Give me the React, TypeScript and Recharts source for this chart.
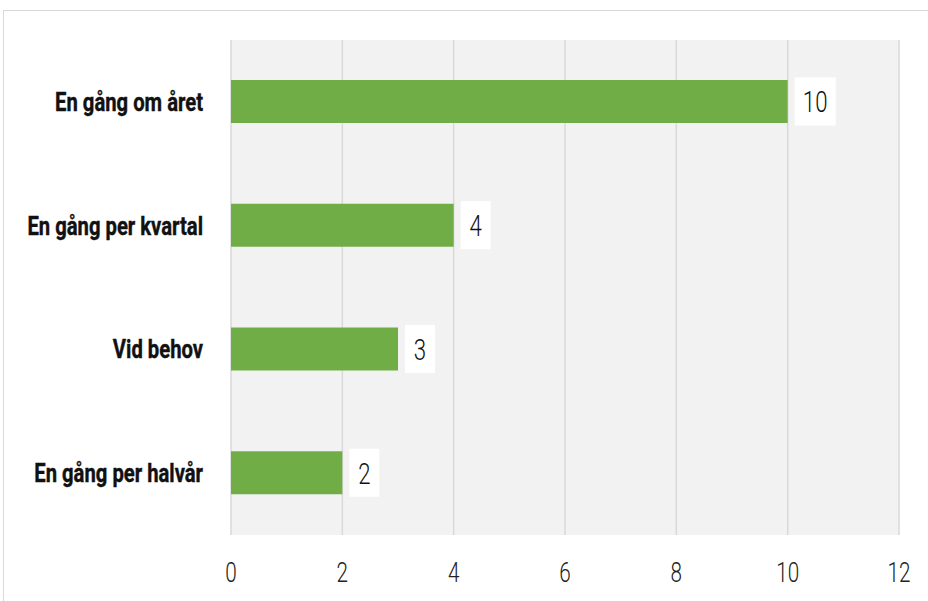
import { BarChart, Bar, XAxis, YAxis, CartesianGrid, LabelList } from "recharts";

// categories top to bottom, and their counts
const categories = ["En gång om året", "En gång per kvartal", "Vid behov", "En gång per halvår"];
const counts = [10, 4, 3, 2];
const xTicks = [0, 2, 4, 6, 8, 10, 12];

const data = categories.map((name, i) => ({ name, value: counts[i] }));

const FONT = "Roboto, 'Noto Sans', sans-serif";
const SQUEEZE = 0.74;
const LABEL_SQUEEZE = 0.81;

function CategoryTick(props: any) {
  const { x, y, payload } = props;
  return (
    <g transform={`translate(${x},${y})`}>
      <text
        transform={`scale(${LABEL_SQUEEZE},1)`}
        textAnchor="end"
        dy="0.36em"
        fontFamily={FONT}
        fontSize={25}
        fontWeight={700}
        fill="#111"
        stroke="#111"
        strokeWidth={0.4}
      >
        {payload.value}
      </text>
    </g>
  );
}

function NumberTick(props: any) {
  const { x, y, payload } = props;
  return (
    <g transform={`translate(${x},${y})`}>
      <text
        transform={`scale(${SQUEEZE},1)`}
        textAnchor="middle"
        dy="0.71em"
        fontFamily={FONT}
        fontSize={28}
        fontWeight={300}
        fill="#222"
      >
        {payload.value}
      </text>
    </g>
  );
}

function ValueLabel(props: any) {
  const { x, y, width, height, value } = props;
  const text = String(value);
  const boxW = text.length * 11 + 19;
  const boxH = 48;
  const bx = x + width + 7;
  const cy = y + height / 2;
  return (
    <g>
      <rect x={bx} y={cy - boxH / 2} width={boxW} height={boxH} fill="#ffffff" />
      <g transform={`translate(${bx + boxW / 2},${cy})`}>
        <text
          transform={`scale(${SQUEEZE},1)`}
          textAnchor="middle"
          dy="0.36em"
          fontFamily={FONT}
          fontSize={30}
          fontWeight={300}
          fill="#111"
        >
          {text}
        </text>
      </g>
    </g>
  );
}

export default function App() {
  return (
    <div style={{ position: "absolute", left: 0, top: 0, width: 928, height: 601, overflow: "hidden", background: "#fff" }}>
      <div
        style={{
          position: "absolute",
          left: 3,
          top: 10,
          width: 940,
          height: 620,
          border: "1px solid #d9d9d9",
          boxSizing: "border-box",
        }}
      />
      <BarChart
        width={928}
        height={601}
        data={data}
        layout="vertical"
        margin={{ top: 40, right: 29, left: 0, bottom: 36 }}
        style={{ position: "absolute", left: 0, top: 0 }}
      >
        <CartesianGrid horizontal={false} stroke="#d9d9d9" strokeWidth={1.5} fill="#f2f2f2" />
        <XAxis
          type="number"
          domain={[0, 12]}
          ticks={xTicks}
          axisLine={false}
          tickLine={false}
          tickSize={0}
          tickMargin={27}
          height={30}
          tick={<NumberTick />}
        />
        <YAxis
          type="category"
          dataKey="name"
          width={231}
          axisLine={false}
          tickLine={false}
          tickSize={0}
          tickMargin={28}
          tick={<CategoryTick />}
        />
        <Bar dataKey="value" fill="#70ad47" barSize={43} isAnimationActive={false}>
          <LabelList dataKey="value" content={<ValueLabel />} />
        </Bar>
      </BarChart>
    </div>
  );
}
